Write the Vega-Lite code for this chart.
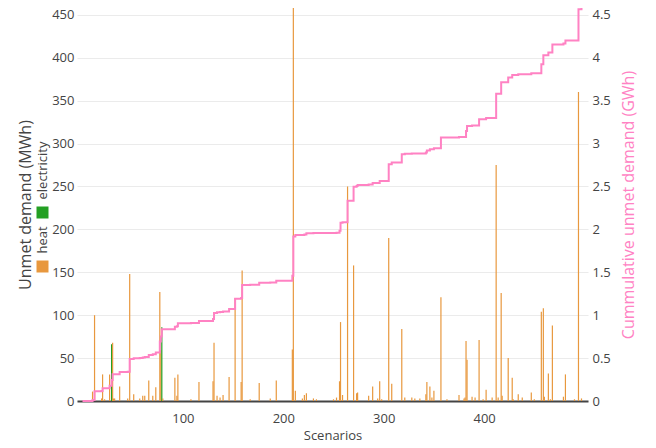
{
  "$schema": "https://vega.github.io/schema/vega-lite/v6.json",
  "width": 511,
  "height": 393,
  "autosize": {"type": "none"},
  "padding": {"left": 77, "top": 8, "right": 68, "bottom": 47},
  "background": "white",
  "config": {
    "font": "Open Sans",
    "view": {"stroke": null},
    "axis": {"labelFont": "Open Sans", "titleFont": "Open Sans", "labelColor": "#444", "titleColor": "#444", "titleFontWeight": "normal"}
  },
  "datasets": {
    "bars": [
      {"scenario": 10, "type": "heat", "mwh": 11},
      {"scenario": 12, "type": "heat", "mwh": 100},
      {"scenario": 19, "type": "heat", "mwh": 3},
      {"scenario": 20, "type": "heat", "mwh": 31},
      {"scenario": 22, "type": "heat", "mwh": 2},
      {"scenario": 27, "type": "heat", "mwh": 31},
      {"scenario": 29, "type": "electricity", "mwh": 66},
      {"scenario": 30, "type": "heat", "mwh": 68},
      {"scenario": 31, "type": "heat", "mwh": 3},
      {"scenario": 32, "type": "heat", "mwh": 3},
      {"scenario": 37, "type": "heat", "mwh": 17},
      {"scenario": 45, "type": "heat", "mwh": 3},
      {"scenario": 47, "type": "heat", "mwh": 148},
      {"scenario": 51, "type": "heat", "mwh": 8},
      {"scenario": 57, "type": "heat", "mwh": 3},
      {"scenario": 60, "type": "heat", "mwh": 6},
      {"scenario": 62, "type": "heat", "mwh": 6},
      {"scenario": 66, "type": "heat", "mwh": 24},
      {"scenario": 70, "type": "heat", "mwh": 6},
      {"scenario": 73, "type": "heat", "mwh": 16},
      {"scenario": 77, "type": "heat", "mwh": 127},
      {"scenario": 78, "type": "heat", "mwh": 59},
      {"scenario": 79, "type": "electricity", "mwh": 86},
      {"scenario": 80, "type": "heat", "mwh": 3},
      {"scenario": 92, "type": "heat", "mwh": 27},
      {"scenario": 94, "type": "heat", "mwh": 6},
      {"scenario": 95, "type": "heat", "mwh": 31},
      {"scenario": 108, "type": "heat", "mwh": 2},
      {"scenario": 116, "type": "heat", "mwh": 22},
      {"scenario": 130, "type": "heat", "mwh": 23},
      {"scenario": 131, "type": "heat", "mwh": 68},
      {"scenario": 134, "type": "heat", "mwh": 6},
      {"scenario": 137, "type": "heat", "mwh": 4},
      {"scenario": 140, "type": "heat", "mwh": 7},
      {"scenario": 146, "type": "heat", "mwh": 28},
      {"scenario": 152, "type": "heat", "mwh": 120},
      {"scenario": 158, "type": "heat", "mwh": 22},
      {"scenario": 159, "type": "heat", "mwh": 152},
      {"scenario": 167, "type": "heat", "mwh": 2},
      {"scenario": 176, "type": "heat", "mwh": 21},
      {"scenario": 187, "type": "heat", "mwh": 3},
      {"scenario": 193, "type": "heat", "mwh": 24},
      {"scenario": 209, "type": "heat", "mwh": 60},
      {"scenario": 210, "type": "heat", "mwh": 458},
      {"scenario": 212, "type": "heat", "mwh": 12},
      {"scenario": 219, "type": "heat", "mwh": 3},
      {"scenario": 221, "type": "heat", "mwh": 7},
      {"scenario": 223, "type": "heat", "mwh": 9},
      {"scenario": 230, "type": "heat", "mwh": 3},
      {"scenario": 233, "type": "heat", "mwh": 2},
      {"scenario": 250, "type": "heat", "mwh": 2},
      {"scenario": 253, "type": "heat", "mwh": 4},
      {"scenario": 256, "type": "heat", "mwh": 23},
      {"scenario": 257, "type": "heat", "mwh": 92},
      {"scenario": 259, "type": "heat", "mwh": 7},
      {"scenario": 264, "type": "heat", "mwh": 250},
      {"scenario": 270, "type": "heat", "mwh": 158},
      {"scenario": 273, "type": "heat", "mwh": 9},
      {"scenario": 274, "type": "heat", "mwh": 10},
      {"scenario": 285, "type": "heat", "mwh": 6},
      {"scenario": 289, "type": "heat", "mwh": 17},
      {"scenario": 294, "type": "heat", "mwh": 3},
      {"scenario": 296, "type": "heat", "mwh": 23},
      {"scenario": 298, "type": "heat", "mwh": 2},
      {"scenario": 305, "type": "heat", "mwh": 190},
      {"scenario": 308, "type": "heat", "mwh": 20},
      {"scenario": 318, "type": "heat", "mwh": 84},
      {"scenario": 321, "type": "heat", "mwh": 4},
      {"scenario": 328, "type": "heat", "mwh": 4},
      {"scenario": 331, "type": "heat", "mwh": 3},
      {"scenario": 336, "type": "heat", "mwh": 3},
      {"scenario": 342, "type": "heat", "mwh": 8},
      {"scenario": 343, "type": "heat", "mwh": 22},
      {"scenario": 346, "type": "heat", "mwh": 17},
      {"scenario": 348, "type": "heat", "mwh": 4},
      {"scenario": 350, "type": "heat", "mwh": 12},
      {"scenario": 357, "type": "heat", "mwh": 121},
      {"scenario": 363, "type": "heat", "mwh": 2},
      {"scenario": 375, "type": "heat", "mwh": 7},
      {"scenario": 380, "type": "heat", "mwh": 3},
      {"scenario": 381, "type": "heat", "mwh": 4},
      {"scenario": 382, "type": "heat", "mwh": 70},
      {"scenario": 383, "type": "heat", "mwh": 48},
      {"scenario": 388, "type": "heat", "mwh": 5},
      {"scenario": 391, "type": "heat", "mwh": 4},
      {"scenario": 395, "type": "heat", "mwh": 71},
      {"scenario": 399, "type": "heat", "mwh": 2},
      {"scenario": 402, "type": "heat", "mwh": 13},
      {"scenario": 408, "type": "heat", "mwh": 4},
      {"scenario": 412, "type": "heat", "mwh": 275},
      {"scenario": 414, "type": "heat", "mwh": 4},
      {"scenario": 417, "type": "heat", "mwh": 126},
      {"scenario": 418, "type": "heat", "mwh": 6},
      {"scenario": 424, "type": "heat", "mwh": 50},
      {"scenario": 428, "type": "heat", "mwh": 27},
      {"scenario": 429, "type": "heat", "mwh": 2},
      {"scenario": 434, "type": "heat", "mwh": 8},
      {"scenario": 438, "type": "heat", "mwh": 4},
      {"scenario": 447, "type": "heat", "mwh": 10},
      {"scenario": 450, "type": "heat", "mwh": 2},
      {"scenario": 457, "type": "heat", "mwh": 104},
      {"scenario": 459, "type": "heat", "mwh": 108},
      {"scenario": 460, "type": "heat", "mwh": 5},
      {"scenario": 464, "type": "heat", "mwh": 32},
      {"scenario": 466, "type": "heat", "mwh": 2},
      {"scenario": 468, "type": "heat", "mwh": 88},
      {"scenario": 479, "type": "heat", "mwh": 5},
      {"scenario": 481, "type": "heat", "mwh": 31},
      {"scenario": 490, "type": "heat", "mwh": 2},
      {"scenario": 494, "type": "heat", "mwh": 360},
      {"scenario": 497, "type": "heat", "mwh": 3}
    ],
    "cum": [
      {"scenario": 0, "gwh": 0},
      {"scenario": 10, "gwh": 0.011},
      {"scenario": 12, "gwh": 0.113},
      {"scenario": 19, "gwh": 0.116},
      {"scenario": 20, "gwh": 0.148},
      {"scenario": 22, "gwh": 0.15},
      {"scenario": 27, "gwh": 0.178},
      {"scenario": 29, "gwh": 0.245},
      {"scenario": 30, "gwh": 0.311},
      {"scenario": 37, "gwh": 0.338},
      {"scenario": 45, "gwh": 0.341},
      {"scenario": 47, "gwh": 0.489},
      {"scenario": 51, "gwh": 0.497},
      {"scenario": 57, "gwh": 0.5},
      {"scenario": 60, "gwh": 0.506},
      {"scenario": 62, "gwh": 0.512},
      {"scenario": 66, "gwh": 0.536},
      {"scenario": 70, "gwh": 0.545},
      {"scenario": 73, "gwh": 0.565},
      {"scenario": 77, "gwh": 0.692},
      {"scenario": 78, "gwh": 0.751},
      {"scenario": 79, "gwh": 0.837},
      {"scenario": 92, "gwh": 0.864},
      {"scenario": 94, "gwh": 0.87},
      {"scenario": 95, "gwh": 0.906},
      {"scenario": 108, "gwh": 0.91},
      {"scenario": 116, "gwh": 0.933},
      {"scenario": 130, "gwh": 0.956},
      {"scenario": 131, "gwh": 1.027},
      {"scenario": 134, "gwh": 1.033},
      {"scenario": 137, "gwh": 1.037},
      {"scenario": 140, "gwh": 1.044},
      {"scenario": 146, "gwh": 1.072},
      {"scenario": 152, "gwh": 1.192},
      {"scenario": 158, "gwh": 1.2},
      {"scenario": 159, "gwh": 1.352},
      {"scenario": 167, "gwh": 1.355},
      {"scenario": 176, "gwh": 1.377},
      {"scenario": 187, "gwh": 1.38},
      {"scenario": 193, "gwh": 1.4},
      {"scenario": 209, "gwh": 1.46},
      {"scenario": 210, "gwh": 1.918},
      {"scenario": 212, "gwh": 1.935},
      {"scenario": 221, "gwh": 1.94},
      {"scenario": 223, "gwh": 1.955},
      {"scenario": 230, "gwh": 1.958},
      {"scenario": 253, "gwh": 1.962},
      {"scenario": 256, "gwh": 1.985},
      {"scenario": 257, "gwh": 2.077},
      {"scenario": 259, "gwh": 2.083},
      {"scenario": 264, "gwh": 2.335},
      {"scenario": 270, "gwh": 2.498},
      {"scenario": 273, "gwh": 2.507},
      {"scenario": 274, "gwh": 2.518},
      {"scenario": 285, "gwh": 2.524},
      {"scenario": 289, "gwh": 2.54},
      {"scenario": 296, "gwh": 2.565},
      {"scenario": 305, "gwh": 2.76},
      {"scenario": 308, "gwh": 2.78},
      {"scenario": 318, "gwh": 2.876},
      {"scenario": 321, "gwh": 2.88},
      {"scenario": 328, "gwh": 2.884},
      {"scenario": 342, "gwh": 2.895},
      {"scenario": 343, "gwh": 2.918},
      {"scenario": 346, "gwh": 2.935},
      {"scenario": 350, "gwh": 2.946},
      {"scenario": 357, "gwh": 3.07},
      {"scenario": 375, "gwh": 3.077},
      {"scenario": 382, "gwh": 3.148},
      {"scenario": 383, "gwh": 3.206},
      {"scenario": 388, "gwh": 3.211},
      {"scenario": 395, "gwh": 3.284},
      {"scenario": 402, "gwh": 3.298},
      {"scenario": 412, "gwh": 3.58},
      {"scenario": 417, "gwh": 3.715},
      {"scenario": 424, "gwh": 3.77},
      {"scenario": 428, "gwh": 3.8},
      {"scenario": 434, "gwh": 3.808},
      {"scenario": 447, "gwh": 3.82},
      {"scenario": 457, "gwh": 3.925},
      {"scenario": 459, "gwh": 4.03},
      {"scenario": 464, "gwh": 4.06},
      {"scenario": 468, "gwh": 4.155},
      {"scenario": 479, "gwh": 4.165},
      {"scenario": 481, "gwh": 4.2},
      {"scenario": 494, "gwh": 4.565},
      {"scenario": 497, "gwh": 4.58}
    ]
  },
  "layer": [
    {
      "data": {"name": "bars"},
      "mark": {"type": "bar", "size": 1.2, "clip": true},
      "encoding": {
        "x": {
          "field": "scenario",
          "type": "quantitative",
          "scale": {"domain": [-0.5, 498.5], "nice": false, "zero": false},
          "axis": {
            "values": [100, 200, 300, 400],
            "title": "Scenarios",
            "grid": false,
            "ticks": false,
            "tickSize": 0,
            "labelPadding": 11,
            "labelFontSize": 13,
            "titleFontSize": 13,
            "titlePadding": 4,
            "domainColor": "#444",
            "domainWidth": 2
          }
        },
        "y": {
          "field": "mwh",
          "type": "quantitative",
          "scale": {"domain": [0, 458], "nice": false},
          "axis": {
            "values": [0, 50, 100, 150, 200, 250, 300, 350, 400, 450],
            "title": "Unmet demand (MWh)",
            "domain": false,
            "ticks": false,
            "tickSize": 0,
            "labelPadding": 3,
            "labelFontSize": 13,
            "titleFontSize": 16,
            "titlePadding": 18,
            "gridColor": "#ebebeb",
            "gridWidth": 1
          }
        },
        "color": {
          "field": "type",
          "type": "nominal",
          "scale": {"domain": ["electricity", "heat"], "range": ["#23a023", "#e8983e"]},
          "legend": {
            "title": null,
            "orient": "none",
            "legendX": -41,
            "legendY": 198,
            "direction": "vertical",
            "symbolType": "square",
            "symbolSize": 144,
            "symbolStrokeWidth": 0,
            "symbolOpacity": 1,
            "labelFontSize": 13,
            "labelColor": "#444",
            "labelFont": "Open Sans",
            "padding": 0,
            "rowPadding": 7,
            "encode": {
              "labels": {
                "update": {
                  "angle": {"value": -90},
                  "align": {"value": "left"},
                  "baseline": {"value": "middle"},
                  "dx": {"value": 13},
                  "dy": {"value": -10}
                }
              }
            }
          }
        }
      }
    },
    {
      "data": {"name": "cum"},
      "mark": {"type": "line", "interpolate": "step-after", "color": "#ff82c3", "strokeWidth": 2},
      "encoding": {
        "x": {
          "field": "scenario",
          "type": "quantitative",
          "scale": {"domain": [-0.5, 498.5], "nice": false, "zero": false}
        },
        "y": {
          "field": "gwh",
          "type": "quantitative",
          "scale": {"domain": [0, 4.58], "nice": false},
          "axis": {
            "orient": "right",
            "values": [0, 0.5, 1, 1.5, 2, 2.5, 3, 3.5, 4, 4.5],
            "format": "~g",
            "title": "Cummulative unmet demand (GWh)",
            "titleColor": "#ff82c3",
            "titleAngle": -90,
            "titleBaseline": "top",
            "grid": false,
            "domain": false,
            "ticks": false,
            "tickSize": 0,
            "labelPadding": 4,
            "labelFontSize": 13,
            "titleFontSize": 16,
            "titlePadding": 10
          }
        }
      }
    }
  ],
  "resolve": {"scale": {"y": "independent"}}
}
